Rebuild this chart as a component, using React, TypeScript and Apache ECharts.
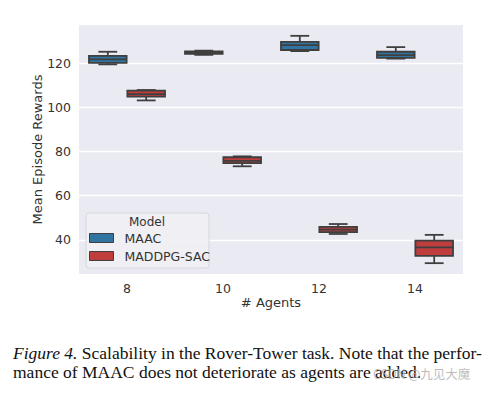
import React, { useEffect, useRef } from "react";
import * as echarts from "echarts";

const agents = ["8", "10", "12", "14"];
// [min, Q1, median, Q3, max]
const maacStats = [
  [119.4, 120.1, 121.7, 123.2, 125.1],
  [123.7, 124.2, 124.7, 125.3, 125.6],
  [125.4, 125.9, 128.1, 129.6, 132.3],
  [122.0, 122.3, 123.6, 125.1, 127.2],
];
const maddpgStats = [
  [103.1, 104.8, 105.9, 107.5, 107.8],
  [73.3, 74.7, 75.8, 77.4, 77.8],
  [42.7, 43.5, 44.7, 45.9, 47.2],
  [29.5, 32.8, 36.6, 39.7, 42.3],
];
const yTicks = [40, 60, 80, 100, 120];
const seriesNames = ["MAAC", "MADDPG-SAC"];
const seriesColors = ["#3274a1", "#c03d3e"];

const LINE = "#3f3f3f";
const SANS = "DejaVu Sans";

function makeRender(offset: number) {
  return (params: any, api: any) => {
    const idx = api.value(0);
    const band = api.size([1, 0])[0];
    const cx = api.coord([idx, 0])[0] + offset * band;
    const w = band * 0.4 * 0.98;
    const yMin = api.coord([idx, api.value(1)])[1];
    const yQ1 = api.coord([idx, api.value(2)])[1];
    const yMed = api.coord([idx, api.value(3)])[1];
    const yQ3 = api.coord([idx, api.value(4)])[1];
    const yMax = api.coord([idx, api.value(5)])[1];
    const color = api.visual("color");
    const ls = { stroke: LINE, lineWidth: 1.8, fill: null };
    return {
      type: "group",
      children: [
        { type: "line", shape: { x1: cx, y1: yQ3, x2: cx, y2: yMax }, style: ls },
        { type: "line", shape: { x1: cx, y1: yQ1, x2: cx, y2: yMin }, style: ls },
        { type: "line", shape: { x1: cx - w / 4, y1: yMax, x2: cx + w / 4, y2: yMax }, style: ls },
        { type: "line", shape: { x1: cx - w / 4, y1: yMin, x2: cx + w / 4, y2: yMin }, style: ls },
        {
          type: "rect",
          shape: { x: cx - w / 2, y: yQ3, width: w, height: yQ1 - yQ3 },
          style: { fill: color, stroke: LINE, lineWidth: 1.8 },
        },
        { type: "line", shape: { x1: cx - w / 2, y1: yMed, x2: cx + w / 2, y2: yMed }, style: ls },
      ],
    };
  };
}

export default function App() {
  const ref = useRef<HTMLDivElement>(null);
  useEffect(() => {
    if (!ref.current) return;
    const chart = echarts.init(ref.current, undefined, { renderer: "svg" });
    const toData = (stats: number[][]) => stats.map((s, i) => [i, ...s]);
    chart.setOption({
      animation: false,
      backgroundColor: "#ffffff",
      grid: {
        left: 79,
        top: 25,
        width: 384,
        height: 249,
        show: true,
        backgroundColor: "#eaeaf2",
        borderWidth: 0,
      },
      xAxis: {
        type: "category",
        data: agents,
        name: "# Agents",
        nameLocation: "middle",
        nameGap: 22,
        nameMoveOverlap: false,
        nameTextStyle: { fontFamily: SANS, fontSize: 13, color: "#333" },
        axisLine: { show: false },
        axisTick: { show: false },
        axisLabel: { fontFamily: SANS, fontSize: 12.5, color: "#333", margin: 8 },
        splitLine: { show: false },
      },
      yAxis: {
        type: "value",
        min: 24.6,
        max: 137.2,
        name: "Mean Episode Rewards",
        nameLocation: "middle",
        nameGap: 35,
        nameMoveOverlap: false,
        nameTextStyle: { fontFamily: SANS, fontSize: 13, color: "#333" },
        axisLine: { show: false },
        axisTick: { show: false, customValues: yTicks },
        axisLabel: { customValues: yTicks, fontFamily: SANS, fontSize: 12.5, color: "#333", margin: 8 },
        splitLine: { show: true, lineStyle: { color: "#ffffff", width: 1.3 } },
      },
      legend: {
        orient: "vertical",
        left: 89,
        top: 231,
        itemWidth: 24,
        itemHeight: 9,
        itemGap: 4,
        padding: 0,
        icon: "rect",
        textStyle: { fontFamily: SANS, fontSize: 12.5, color: "#333", lineHeight: 14, padding: [0, 0, 0, 6] },
        data: seriesNames.map((n, i) => ({
          name: n,
          itemStyle: { color: seriesColors[i], borderColor: LINE, borderWidth: 1 },
        })),
        z: 5,
      },
      graphic: [
        {
          type: "rect",
          z: 3,
          shape: { x: 86, y: 213, width: 123, height: 55, r: 3 },
          style: { fill: "rgba(240,240,245,0.85)", stroke: "#d6d6de", lineWidth: 1 },
        },
        {
          type: "text",
          z: 4,
          x: 147,
          y: 222,
          style: {
            text: "Model",
            fontFamily: SANS,
            fontSize: 12,
            fill: "#333",
            align: "center",
            verticalAlign: "middle",
          },
        },
        {
          type: "text",
          x: 13,
          y: 353,
          style: {
            text: "{i|Figure 4.} Scalability in the Rover-Tower task. Note that the perfor-",
            fontFamily: "Liberation Serif",
            fontSize: 17.5,
            fill: "#111",
            verticalAlign: "middle",
            rich: { i: { fontStyle: "italic", fontFamily: "Liberation Serif", fontSize: 17.5, fill: "#111" } },
          },
        },
        {
          type: "text",
          x: 13,
          y: 372,
          style: {
            text: "mance of MAAC does not deteriorate as agents are added.",
            fontFamily: "Liberation Serif",
            fontSize: 17.5,
            fill: "#111",
            verticalAlign: "middle",
          },
        },
        {
          type: "text",
          x: 373,
          y: 373,
          z: 10,
          style: {
            text: "CSDN @九见大魔",
            fontFamily: "Noto Sans CJK SC",
            fontSize: 12.5,
            fill: "rgba(175,175,175,0.85)",
            verticalAlign: "middle",
          },
        },
      ],
      series: [
        {
          name: seriesNames[0],
          type: "custom",
          renderItem: makeRender(-0.2),
          itemStyle: { color: seriesColors[0] },
          encode: { x: 0, y: [1, 2, 3, 4, 5] },
          data: toData(maacStats),
          z: 2,
        },
        {
          name: seriesNames[1],
          type: "custom",
          renderItem: makeRender(0.2),
          itemStyle: { color: seriesColors[1] },
          encode: { x: 0, y: [1, 2, 3, 4, 5] },
          data: toData(maddpgStats),
          z: 2,
        },
      ],
    });
    return () => chart.dispose();
  }, []);
  return (
    <div
      ref={ref}
      style={{ position: "absolute", left: 0, top: 0, width: 485, height: 396, background: "#fff" }}
    />
  );
}
